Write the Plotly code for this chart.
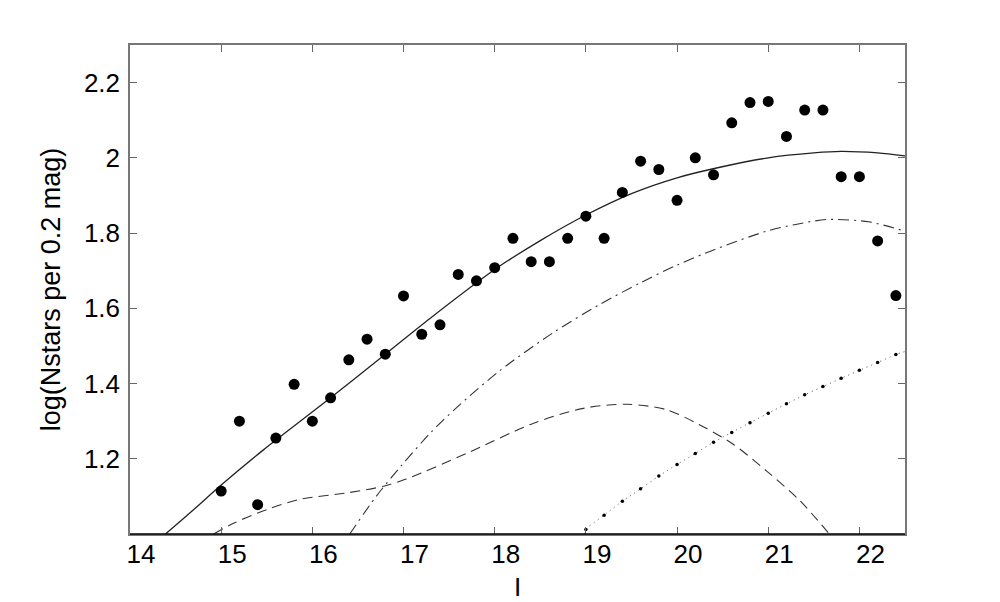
import plotly.graph_objects as go

# Observed star counts
mag = [15.0, 15.2, 15.4, 15.6, 15.8, 16.0, 16.2, 16.4, 16.6, 16.8,
       17.0, 17.2, 17.4, 17.6, 17.8, 18.0, 18.2, 18.4, 18.6, 18.8,
       19.0, 19.2, 19.4, 19.6, 19.8, 20.0, 20.2, 20.4, 20.6, 20.8,
       21.0, 21.2, 21.4, 21.6, 21.8, 22.0, 22.2, 22.4]
logn = [1.114, 1.300, 1.078, 1.255, 1.398, 1.300, 1.362, 1.463, 1.518, 1.478,
        1.633, 1.531, 1.556, 1.690, 1.673, 1.708, 1.786, 1.724, 1.724, 1.786,
        1.845, 1.786, 1.908, 1.991, 1.969, 1.887, 2.000, 1.955, 2.093, 2.147,
        2.150, 2.057, 2.127, 2.127, 1.950, 1.950, 1.779, 1.634]

# Total model (solid)
tot_x = [14.39, 14.7, 15.0, 15.46, 16.2, 16.8, 17.29, 18.0, 18.5, 19.0,
         19.5, 20.0, 20.47, 21.0, 21.5, 21.8, 22.2, 22.5]
tot_y = [1.0, 1.065, 1.13, 1.223, 1.362, 1.478, 1.573, 1.703, 1.780, 1.848,
         1.905, 1.947, 1.975, 2.000, 2.013, 2.017, 2.013, 2.005]

# Component (dash-dot)
dd_x = [16.41, 16.7, 16.97, 17.3, 17.6, 18.06, 18.64, 19.15, 19.6, 20.0,
        20.43, 20.98, 21.3, 21.64, 22.1, 22.5]
dd_y = [1.0, 1.10, 1.18, 1.27, 1.34, 1.435, 1.535, 1.61, 1.668, 1.715,
        1.758, 1.805, 1.823, 1.836, 1.830, 1.805]

# Component (dashed)
ds_x = [14.92, 15.13, 15.5, 15.86, 16.4, 16.78, 17.03, 17.69, 18.42, 18.97,
        19.45, 19.89, 20.32, 20.62, 20.98, 21.35, 21.67]
ds_y = [1.0, 1.028, 1.065, 1.092, 1.11, 1.127, 1.146, 1.214, 1.294, 1.334,
        1.345, 1.33, 1.281, 1.238, 1.168, 1.088, 1.0]

# Component (dotted)
dt_x = [18.99, 19.0, 19.2, 19.4, 19.6, 19.8, 20.0, 20.2, 20.4, 20.6, 20.8,
        21.0, 21.2, 21.4, 21.6, 21.8, 22.0, 22.2, 22.4, 22.5]
dt_y = [1.0, 1.012, 1.05, 1.087, 1.12, 1.154, 1.185, 1.214, 1.244, 1.270, 1.296,
        1.321, 1.346, 1.37, 1.392, 1.414, 1.435, 1.456, 1.477, 1.485]

x_ticks = [14, 15, 16, 17, 18, 19, 20, 21, 22]
y_ticks = [1.2, 1.4, 1.6, 1.8, 2.0, 2.2]
y_tick_text = ["1.2", "1.4", "1.6", "1.8", "2", "2.2"]

FONT = "Liberation Sans, Arial, Helvetica, sans-serif"

fig = go.Figure()
fig.add_trace(go.Scatter(x=tot_x, y=tot_y, mode="lines", line=dict(color="#222", width=1.3, shape="spline", smoothing=0.8), showlegend=False))
fig.add_trace(go.Scatter(x=dd_x, y=dd_y, mode="lines", line=dict(color="#333", width=1.1, dash="11px,5px,2px,5px", shape="spline", smoothing=0.8), showlegend=False))
fig.add_trace(go.Scatter(x=ds_x, y=ds_y, mode="lines", line=dict(color="#333", width=1.1, dash="10px,6px", shape="spline", smoothing=0.8), showlegend=False))
fig.add_trace(go.Scatter(x=dt_x, y=dt_y, mode="lines", line=dict(color="#555", width=1, dash="1px,4px", shape="spline", smoothing=0.8), showlegend=False))
fig.add_trace(go.Scatter(x=dt_x[1:-1], y=dt_y[1:-1], mode="markers", marker=dict(color="black", size=3.5), showlegend=False))
fig.add_trace(go.Scatter(x=mag, y=logn, mode="markers", marker=dict(color="black", size=11), showlegend=False))

axis_common = dict(showgrid=False, zeroline=False, showline=True, linecolor="#777", linewidth=1.5,
                   mirror="ticks", ticks="inside", ticklen=7, tickcolor="#666", tickwidth=1,
                   automargin=False,
                   tickfont=dict(family=FONT, size=26, color="black"))

fig.update_xaxes(range=[14, 22.5], tickvals=x_ticks, ticktext=[str(t) for t in x_ticks],
                 ticklabelshift=11, ticklabelstandoff=-4,
                 title=dict(text="I", font=dict(family=FONT, size=26, color="black"), standoff=12),
                 **axis_common)
fig.update_yaxes(range=[1.0, 2.3], tickvals=y_ticks, ticktext=y_tick_text,
                 ticklabelstandoff=3,
                 title=dict(text="log(Nstars per 0.2 mag)", font=dict(family=FONT, size=27, color="black"), standoff=15),
                 **axis_common)

fig.add_shape(type="line", xref="paper", yref="paper", x0=0, x1=1, y0=0, y1=0,
              line=dict(color="black", width=1.5))

fig.update_layout(width=992, height=594, margin=dict(l=122, r=95, t=37, b=68),
                  paper_bgcolor="white", plot_bgcolor="white",
                  font=dict(family=FONT, color="black"))

fig.write_html("out.html")
